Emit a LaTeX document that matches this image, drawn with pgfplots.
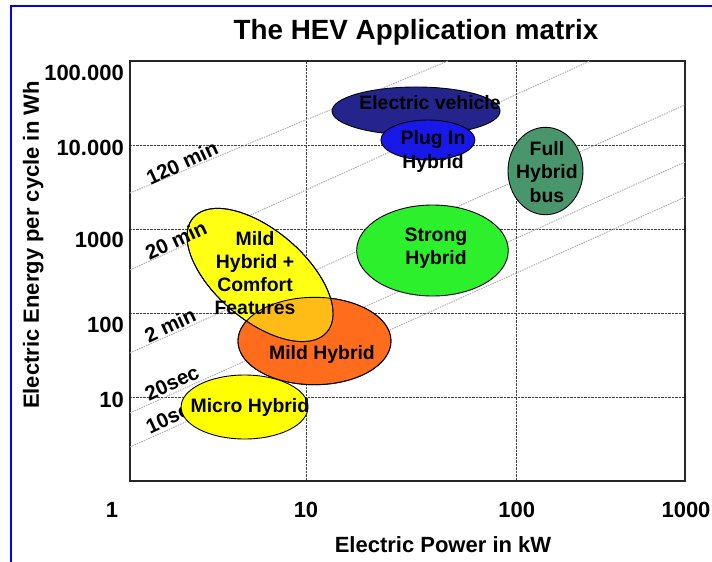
\documentclass[border=0pt]{standalone}
\usepackage{fontspec}
\setmainfont{Liberation Sans}
\usepackage{pgfplots}
\pgfplotsset{compat=1.18}

\definecolor{evnavy}{RGB}{36,36,140}
\definecolor{plugblue}{RGB}{24,24,232}
\definecolor{busgreen}{RGB}{74,150,108}
\definecolor{stronggreen}{RGB}{45,240,45}
\definecolor{mildorange}{RGB}{255,108,28}
\definecolor{comfortyellow}{RGB}{255,255,20}
\definecolor{microyellow}{RGB}{255,255,0}
\definecolor{frameblue}{RGB}{0,0,255}

% bold Arial-like text at a given size / line skip
\newcommand{\fs}[2]{\bfseries\fontsize{#1}{#2}\selectfont}

\tikzset{
    timeline/.style={black!30, line width=1pt, dash pattern=on 1.5pt off 1pt},
    timelabel/.style={font=\fs{20.5}{22}, rotate=25},
    blobtext/.style={font=\fs{19.4}{23.3}, align=center},
}

\begin{document}
\begin{tikzpicture}[x=1pt,y=1pt]
\useasboundingbox (0,0) rectangle (712,562);
\draw[frameblue, line width=2pt] (11,-2) -- (11,556) -- (714,556);

\begin{axis}[
    at={(130pt,81pt)}, anchor=south west,
    scale only axis, width=555pt, height=420pt,
    xmode=log, ymode=log,
    xmin=1.461, xmax=629.4, ymin=1, ymax=100000,
    xtick={10,100}, xticklabels={10,100},
    ytick={10,100,1000,10000,100000},
    yticklabels={\smash{\raisebox{-10.9pt}{10}},\smash{\raisebox{-19.9pt}{100}},\smash{\raisebox{-18.9pt}{1000}},\smash{\raisebox{-10.4pt}{10.000}},\smash{\raisebox{-19.4pt}{100.000}}},
    xminorticks=false, yminorticks=false,
    major tick length=0pt,
    grid=major,
    major grid style={densely dotted, black!75, line width=0.8pt},
    axis line style={black!85, line width=1.6pt},
    ticklabel style={font=\fs{22}{24}},
    xticklabel style={anchor=center, yshift=-29pt},
    yticklabel style={anchor=east, inner sep=0pt, xshift=-6pt},
    clip=false,
]

% constant-time lines (energy = power x time)
\addplot[timeline] coordinates {(1.461,2683) (47.2,100000)};
\addplot[timeline] coordinates {(1.461,325) (222.8,100000)};
\addplot[timeline] coordinates {(1.461,33.4) (629.4,29940)};
\addplot[timeline] coordinates {(1.461,6.45) (629.4,6277)};
\addplot[timeline] coordinates {(1.461,2.54) (629.4,2404)};

% hidden partly behind the micro hybrid region, as in the original
\node[timelabel] at (axis cs:2.337,5.94) {10sec};

% application regions
\addplot[only marks, mark=*, mark size=24pt, mark options={draw=black, line width=0.9pt, fill=evnavy, xscale=3.5}]
    coordinates {(33.3,25400)};
\addplot[only marks, mark=*, mark size=20pt, mark options={draw=black, line width=0.9pt, fill=plugblue, xscale=2.35}]
    coordinates {(37.9,11470)};
\addplot[only marks, mark=*, mark size=43.7pt, mark options={draw=black, line width=0.9pt, fill=busgreen, xscale=0.858}]
    coordinates {(137,4900)};
\addplot[only marks, mark=*, mark size=45.5pt, mark options={draw=black, line width=0.9pt, fill=stronggreen, xscale=1.666}]
    coordinates {(39.85,554.6)};
% mild hybrid and the comfort region: the overlap is a blend of both
\addplot[only marks, mark=*, mark size=43.7pt, mark options={draw=black, line width=0.9pt, fill=mildorange, xscale=1.751}]
    coordinates {(10.97,46.4)};
\addplot[only marks, mark=*, mark size=45pt, mark options={draw=black, line width=0.9pt, fill=comfortyellow, rotate=-40.5, xscale=1.956}]
    coordinates {(6.05,283.5)};
\addplot[only marks, mark=*, mark size=43.7pt, mark options={draw=black, line width=0.9pt, fill=mildorange, fill opacity=0.45, xscale=1.751}]
    coordinates {(10.97,46.4)};
\addplot[only marks, mark=o, mark size=45pt, mark options={draw=black, line width=0.9pt, rotate=-40.5, xscale=1.956}]
    coordinates {(6.05,283.5)};
\addplot[only marks, mark=*, mark size=32pt, mark options={draw=black, line width=0.9pt, fill=microyellow, xscale=1.984}]
    coordinates {(5.11,7.6)};

% label anchors, set on top of the regions after the axis
\coordinate (t120) at (axis cs:2.58,6109);
\coordinate (t20m) at (axis cs:2.415,740);
\coordinate (t2m)  at (axis cs:2.262,71.9);
\coordinate (t20s) at (axis cs:2.312,14.7);
\coordinate (ev)     at (axis cs:38.8,31620);
\coordinate (plug)   at (axis cs:40.1,8370);
\coordinate (bus)    at (axis cs:139.2,4775);
\coordinate (strong) at (axis cs:41.4,589);
\coordinate (mild)   at (axis cs:11.91,32.5);
\coordinate (comf)   at (axis cs:5.73,299);
\coordinate (micro)  at (axis cs:5.42,7.6);
\end{axis}

\node[timelabel] at (t120) {120 min};
\node[timelabel] at (t20m) {20 min};
\node[timelabel] at (t2m) {2 min};
\node[timelabel] at (t20s) {20sec};

\node[blobtext] at (ev) {Electric vehicle};
\node[blobtext] at (plug) {Plug In\\Hybrid};
\node[blobtext] at (bus) {Full\\Hybrid\\bus};
\node[blobtext] at (strong) {Strong\\Hybrid};
\node[blobtext] at (mild) {Mild Hybrid};
\node[blobtext] at (comf) {Mild\\Hybrid +\\Comfort\\Features};
\node[blobtext] at (micro) {Micro Hybrid};

\node[anchor=base, font=\fs{27.8}{30}] at (416,522.7) {The HEV Application matrix};
\node[anchor=base, font=\fs{22}{24}] at (443,9) {Electric Power in kW};
\node[anchor=base, rotate=90, font=\fs{22}{24}] at (39,317) {Electric Energy per cycle in Wh};
\node[font=\fs{22}{24}] at (112,52) {1};
\node[font=\fs{22}{24}] at (686,52) {1000};
\end{tikzpicture}
\end{document}
